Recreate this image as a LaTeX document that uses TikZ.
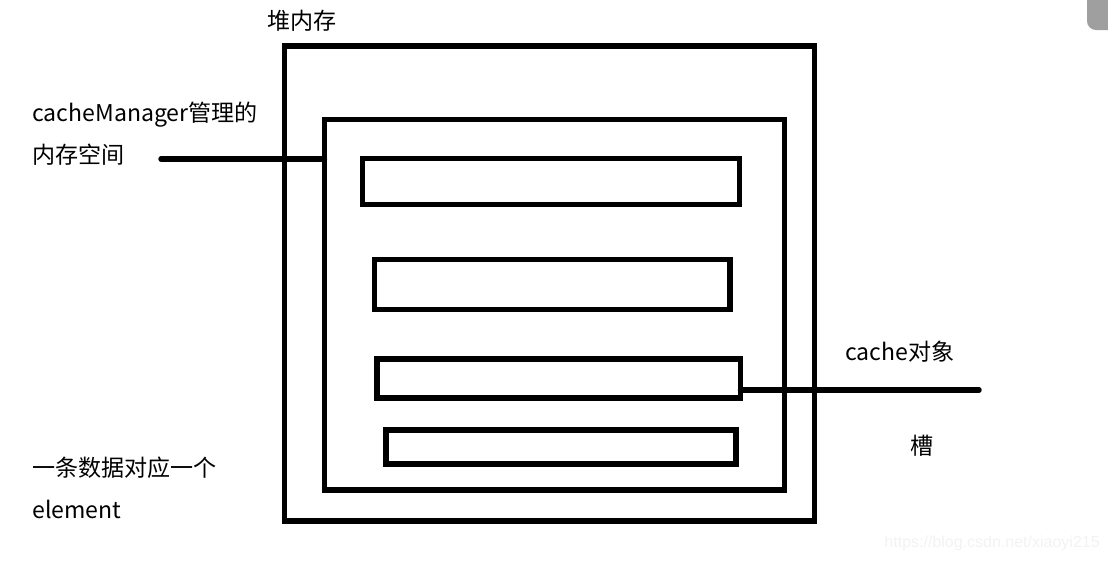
\documentclass[tikz,border=0pt]{standalone}
\usepackage{fontspec}
\setmainfont{Noto Sans CJK SC}
\newfontfamily\markfont{Liberation Sans}
\usepackage{tikz}

\begin{document}
\begin{tikzpicture} [x=0.75pt, y=-0.75pt,
  wall/.style={draw, line width=4.1pt, inner sep=0pt, outer sep=0pt},
  wire/.style={line width=4.1pt, line cap=round},
  lbl/.style={anchor=west, inner sep=0pt, font=\fontsize{17.3}{20}\selectfont}]

\useasboundingbox (0,0) rectangle (1108,562);

% boxes
\node [wall, minimum width=530pt*0.75, minimum height=475pt*0.75] (heap) at (549.5,283.5) {};
\node [wall, minimum width=460pt*0.75, minimum height=370.5pt*0.75] (mgr) at (554.5,304.75) {};
\node [wall, minimum width=377pt*0.75, minimum height=46pt*0.75] (elemA) at (551,181.5) {};
\node [wall, minimum width=355.5pt*0.75, minimum height=50pt*0.75] (elemB) at (552.25,284.5) {};
\node [wall, minimum width=363.5pt*0.75, minimum height=39pt*0.75] (elemC) at (558.75,378.5) {};
\node [wall, minimum width=350pt*0.75, minimum height=34pt*0.75] (elemD) at (561,447) {};

% labels
\node [lbl] (heaptext) at (267,21) {堆内存};
\node [lbl] (mgrtext) at (32,115) {cacheManager管理的};
\node [lbl] (mgrtextb) at (32,155) {内存空间};
\node [lbl] (rowtext) at (32,468) {一条数据对应一个};
\node [lbl] (rowtextb) at (32,509) {element};
\node [lbl] (cachetext) at (845,352) {cache对象};
\node [lbl] (slottext) at (910,446) {槽};

\coordinate (mgrend) at (161,159);
\coordinate (slotend) at (979,390);

\draw [wire] (mgrend) -- (mgr.west |- mgrend);
\draw [wire] (elemC.east |- slotend) -- (slotend);

% page corner and watermark
\fill [gray!75] (1087,0) -- (1087,21) arc (180:90:9) -- (1108,30) -- (1108,0) -- cycle;
\node [anchor=east, inner sep=0pt, text=black!5, font=\markfont\fontsize{12}{14}\selectfont] (mark) at (1100,543) {https://blog.csdn.net/xiaoyi215};
\end{tikzpicture}
\end{document}
